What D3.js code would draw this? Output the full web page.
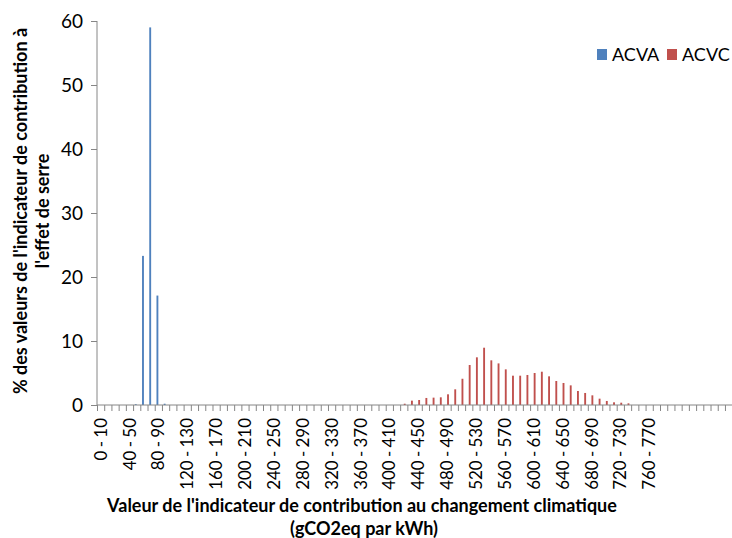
<!DOCTYPE html>
<html><head><meta charset="utf-8">
<script src="https://cdn.jsdelivr.net/npm/d3@7/dist/d3.min.js"></script>
<style>
html,body{margin:0;padding:0;background:#fff;}
svg text{font-family:Lato,"Open Sans",sans-serif;fill:#000;}
</style></head>
<body>
<svg id="chart" width="732" height="538"></svg>
<script>
// Categories (gCO2eq/kWh bins); trailing bins carry no label
const categories = [
"0 - 10","10 - 20","20 - 30","30 - 40","40 - 50","50 - 60","60 - 70","70 - 80","80 - 90","90 - 100",
"100 - 110","110 - 120","120 - 130","130 - 140","140 - 150","150 - 160","160 - 170","170 - 180","180 - 190","190 - 200",
"200 - 210","210 - 220","220 - 230","230 - 240","240 - 250","250 - 260","260 - 270","270 - 280","280 - 290","290 - 300",
"300 - 310","310 - 320","320 - 330","330 - 340","340 - 350","350 - 360","360 - 370","370 - 380","380 - 390","390 - 400",
"400 - 410","410 - 420","420 - 430","430 - 440","440 - 450","450 - 460","460 - 470","470 - 480","480 - 490","490 - 500",
"500 - 510","510 - 520","520 - 530","530 - 540","540 - 550","550 - 560","560 - 570","570 - 580","580 - 590","590 - 600",
"600 - 610","610 - 620","620 - 630","630 - 640","640 - 650","650 - 660","660 - 670","670 - 680","680 - 690","690 - 700",
"700 - 710","710 - 720","720 - 730","730 - 740","740 - 750","750 - 760","760 - 770","770 - 780","","",
"","","","","","","",""
];
const seriesNames = ["ACVA","ACVC"];
const acva = [
0,0,0,0,0,0.12,23.3,59.0,17.1,0.2,
0,0,0,0,0,0,0,0,0,0,
0,0,0,0,0,0,0,0,0,0,
0,0,0,0,0,0,0,0,0,0,
0,0,0,0,0,0,0,0,0,0,
0,0,0,0,0,0,0,0,0,0,
0,0,0,0,0,0,0,0,0,0,
0,0,0,0,0,0,0,0,0,0,
0,0,0,0,0,0,0,0
];
const acvc = [
0,0,0,0,0,0,0,0,0,0,
0,0,0,0,0,0,0,0,0,0,
0,0,0,0,0,0,0,0,0,0,
0,0,0,0,0,0,0,0,0,0,
0,0,0.2,0.68,0.78,1.1,1.15,1.2,1.67,2.45,
4.1,6.25,7.45,8.95,6.98,6.5,5.57,4.58,4.58,4.69,
5.0,5.2,4.48,3.75,3.44,3.07,2.19,1.88,1.51,0.99,
0.63,0.42,0.36,0.26,0,0,0,0,0,0,
0,0,0,0,0,0,0,0
];
const yTicks = [0,10,20,30,40,50,60];
const colors = ["#4F81BD","#C0504D"];

const svg = d3.select("#chart");
const pL = 97, pR = 97 + categories.length * 7.218, pT = 21, pB = 405;
const idx = categories.map((c,i)=>i);
const x = d3.scaleBand().domain(idx).range([pL,pR]).padding(0);
const xEdge = d3.scaleLinear().domain([0,categories.length]).range([pL,pR]);
const y = d3.scaleLinear().domain([0,60]).range([pB,pT]);
const xs = d3.scaleBand().domain(seriesNames).range([-x.bandwidth()*0.26, x.bandwidth()*0.26]).padding(0);

const axisColor = "#868686";

// bars
const series = [acva, acvc];
series.forEach((vals,s)=>{
  svg.append("g").selectAll("rect").data(vals.map((v,i)=>({v,i})).filter(d=>d.v>0))
    .join("rect")
    .attr("x", d=> x(d.i) + x.bandwidth()/2 + xs(seriesNames[s]))
    .attr("width", xs.bandwidth())
    .attr("y", d=> y(d.v))
    .attr("height", d=> y(0)-y(d.v))
    .attr("fill", colors[s]);
});

// y axis
const gy = svg.append("g").attr("transform",`translate(${pL},0)`)
  .call(d3.axisLeft(y).tickValues(yTicks).tickSize(6).tickPadding(8).tickSizeOuter(0));
gy.selectAll("text").style("font-size","19px").attr("dy","0.36em");
gy.selectAll("line,path").attr("stroke",axisColor);
gy.select("path").attr("d",`M0,${pT}V${pB}`);

// x axis tick marks at category boundaries
const gxt = svg.append("g").attr("transform",`translate(0,${pB})`)
  .call(d3.axisBottom(xEdge).tickValues(d3.range(categories.length+1)).tickFormat("").tickSize(6).tickSizeOuter(0));
gxt.selectAll("line,path").attr("stroke",axisColor);
gxt.select("path").attr("d",`M${pL},0H${pR}`);

// x labels
const labelled = idx.filter(i => i%4===0 && categories[i]!=="");
const gx = svg.append("g").attr("transform",`translate(0,${pB})`)
  .call(d3.axisBottom(x).tickValues(labelled).tickFormat(i=>categories[i]).tickSize(0).tickPadding(0));
gx.select("path").remove();
const xl = gx.selectAll("text")
  .style("font-size","18px")
  .style("word-spacing","-1px")
  .attr("text-anchor","end")
  .attr("transform","rotate(-90)")
  .attr("x",-13).attr("y",0).attr("dy","0.36em");
// fit label length to the reference ("120 - 130" ≈ 72px long)
const probe = xl.filter(i => categories[i]==="120 - 130").node();
if (probe) {
  const len = probe.getComputedTextLength();
  if (len > 0) {
    const fs = Math.min(18, 18 * 72 / len);
    xl.style("font-size", fs + "px");
  }
}

// y title
const yt = svg.append("text").attr("transform","translate(21,211) rotate(-90)")
  .attr("text-anchor","middle").style("font-size","18px").style("font-weight","bold");
yt.append("tspan").attr("x",0).attr("dy","0.35em").text("% des valeurs de l'indicateur de contribution à");
yt.append("tspan").attr("x",0).attr("dy","22px").text("l'effet de serre");

// x title
const xt = svg.append("text").attr("text-anchor","middle").style("font-size","18px").style("font-weight","bold");
xt.append("tspan").attr("x",362).attr("y",512).text("Valeur de l'indicateur de contribution au changement climatique");
xt.append("tspan").attr("x",364).attr("y",535).text("(gCO2eq par kWh)");

// legend
const legX = [597, 667];
seriesNames.forEach((n,i)=>{
  svg.append("rect").attr("x",legX[i]).attr("y",49).attr("width",10).attr("height",11).attr("fill",colors[i]);
  svg.append("text").attr("x",legX[i]+15).attr("y",61).style("font-size","18px").text(n);
});
</script>
</body></html>
